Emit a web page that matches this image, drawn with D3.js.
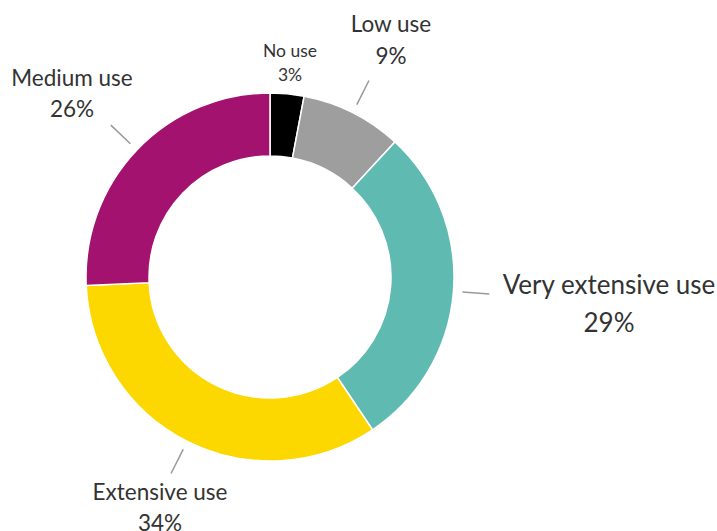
<!DOCTYPE html>
<html>
<head>
<meta charset="utf-8">
<script src="https://cdn.jsdelivr.net/npm/d3@7"></script>
<style>
  body { margin: 0; background: #fff; }
  svg { display: block; }
</style>
</head>
<body>
<div id="chart"></div>
<script>
// usage categories, clockwise from 12 o'clock
const categories = ['No use', 'Low use', 'Very extensive use', 'Extensive use', 'Medium use'];
const shares = [3, 9, 29, 34, 26];
const colors = ['#000000', '#9e9e9e', '#5fbab1', '#fdd700', '#a3126f'];

// label layout (centre x, first-line centre y, line gap, font size, leader line?)
const labelLayout = [
    {x: 290, y: 51, gap: 24, size: 17.5, line: false},
    {x: 391, y: 24, gap: 32, size: 22.5, line: true},
    {x: 609, y: 285, gap: 38, size: 26, line: true},
    {x: 160, y: 492, gap: 31, size: 22.5, line: true},
    {x: 72, y: 78, gap: 31, size: 22.5, line: true}
];

const width = 717, height = 531;
const cx = 270, cy = 277;
const outerR = 184, innerR = 121;

const svg = d3.select('#chart')
    .append('svg')
    .attr('width', width)
    .attr('height', height);

const data = categories.map((c, i) => ({name: c, value: shares[i], color: colors[i], layout: labelLayout[i]}));

const pie = d3.pie()
    .sort(null)
    .value(d => d.value);

const arc = d3.arc()
    .innerRadius(innerR)
    .outerRadius(outerR);

const arcs = pie(data);

const g = svg.append('g')
    .attr('transform', `translate(${cx},${cy})`);

g.selectAll('.slice')
    .data(arcs)
    .enter()
    .append('path')
    .attr('class', 'slice')
    .attr('d', arc)
    .attr('fill', d => d.data.color)
    .attr('stroke', '#fff')
    .attr('stroke-width', 1.5);

// leader lines along the middle angle of each slice
const lineIn = d3.arc().innerRadius(193).outerRadius(193);
const lineOut = d3.arc().innerRadius(220).outerRadius(220);

g.selectAll('.leader')
    .data(arcs.filter(d => d.data.layout.line))
    .enter()
    .append('line')
    .attr('class', 'leader')
    .attr('x1', d => lineIn.centroid(d)[0])
    .attr('y1', d => lineIn.centroid(d)[1])
    .attr('x2', d => lineOut.centroid(d)[0])
    .attr('y2', d => lineOut.centroid(d)[1])
    .attr('stroke', '#999')
    .attr('stroke-width', 1.5);

const labels = svg.selectAll('.label')
    .data(arcs)
    .enter()
    .append('text')
    .attr('class', 'label')
    .attr('text-anchor', 'middle')
    .attr('font-family', 'Lato, "Open Sans", sans-serif')
    .attr('font-size', d => d.data.layout.size)
    .attr('fill', '#333');

labels.append('tspan')
    .attr('x', d => d.data.layout.x)
    .attr('y', d => d.data.layout.y)
    .attr('dy', '0.35em')
    .text(d => d.data.name);

labels.append('tspan')
    .attr('x', d => d.data.layout.x)
    .attr('y', d => d.data.layout.y + d.data.layout.gap)
    .attr('dy', '0.35em')
    .text(d => d.data.value + '%');
</script>
</body>
</html>
